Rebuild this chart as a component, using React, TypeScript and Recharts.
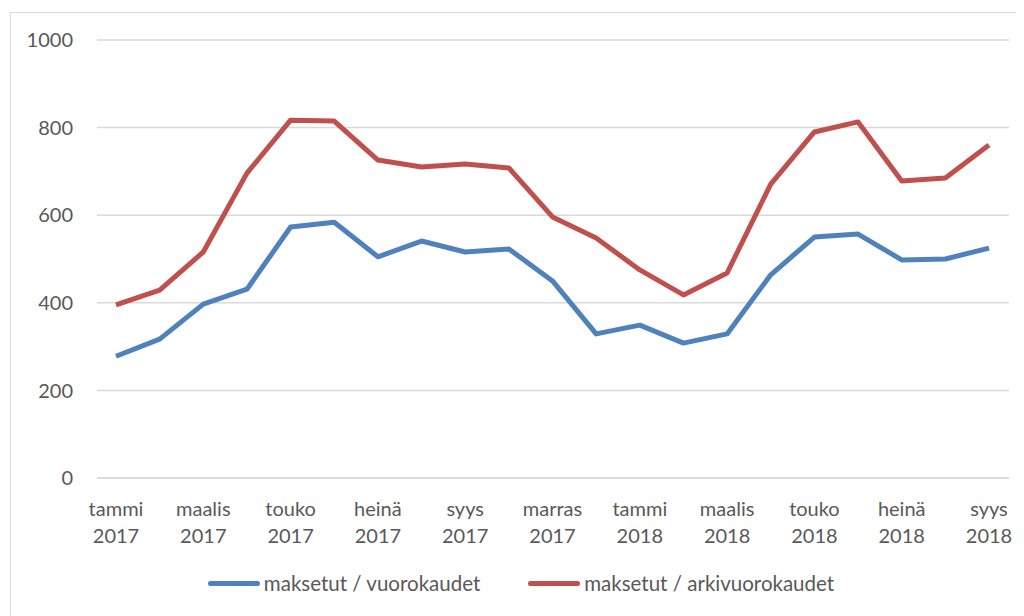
import React from "react";
import { LineChart, Line, XAxis, YAxis, CartesianGrid, Legend } from "recharts";

const months = [
  "tammi 2017", "helmi 2017", "maalis 2017", "huhti 2017", "touko 2017", "kesä 2017",
  "heinä 2017", "elo 2017", "syys 2017", "loka 2017", "marras 2017", "joulu 2017",
  "tammi 2018", "helmi 2018", "maalis 2018", "huhti 2018", "touko 2018", "kesä 2018",
  "heinä 2018", "elo 2018", "syys 2018",
];
const vuorokaudet = [278, 317, 397, 431, 573, 584, 505, 541, 516, 523, 450, 329, 349, 308, 329, 464, 550, 557, 498, 500, 525];
const arkivuorokaudet = [395, 429, 516, 696, 817, 815, 726, 710, 717, 708, 596, 548, 475, 418, 468, 671, 790, 813, 678, 685, 760];
const yTicks = [0, 200, 400, 600, 800, 1000];

const data = months.map((m, i) => ({ month: m, a: vuorokaudet[i], b: arkivuorokaudet[i] }));

const FONT = "Lato, 'Liberation Sans', Arial, sans-serif";
const TXT = "#595959";

const XTick = (props: any) => {
  const { x, y, payload } = props;
  const [m, yr] = String(payload.value).split(" ");
  return (
    <text x={x} y={y} textAnchor="middle" fill={TXT} fontSize={20} fontFamily={FONT}>
      <tspan x={x} dy={30}>{m}</tspan>
      <tspan x={x} dy={27}>{yr}</tspan>
    </text>
  );
};

const LegendContent = () => (
  <div style={{ display: "flex", justifyContent: "center", fontFamily: FONT, fontSize: 20.5, color: TXT, paddingRight: 4 }}>
    <div style={{ display: "flex", alignItems: "center", marginRight: 48 }}>
      <div style={{ width: 52, height: 5, background: "#4F81BD", borderRadius: 3, marginRight: 4 }} />
      <span>maksetut / vuorokaudet</span>
    </div>
    <div style={{ display: "flex", alignItems: "center" }}>
      <div style={{ width: 52, height: 5, background: "#C0504D", borderRadius: 3, marginRight: 4 }} />
      <span>maksetut / arkivuorokaudet</span>
    </div>
  </div>
);

export default function App() {
  return (
    <div style={{ marginLeft: 2, marginTop: 4, width: 1030, height: 620, border: "1px solid #d9d9d9", boxSizing: "border-box", overflow: "hidden" }}>
      <LineChart width={1018} height={600} data={data} margin={{ top: 27, right: 20, left: 26, bottom: 16 }}>
        <CartesianGrid horizontal vertical={false} stroke="#d9d9d9" strokeWidth={1.5} />
        <XAxis
          dataKey="month"
          interval={1}
          tick={<XTick />}
          tickLine={false}
          axisLine={{ stroke: "#d9d9d9", strokeWidth: 1.5 }}
          height={93}
          padding={{ left: 19, right: 20 }}
        />
        <YAxis
          domain={[0, 1000]}
          ticks={yTicks}
          width={60}
          tickLine={false}
          axisLine={false}
          tickMargin={18}
          tick={{ fill: TXT, fontSize: 20, fontFamily: FONT }}
        />
        <Legend verticalAlign="bottom" height={26} content={<LegendContent />} />
        <Line dataKey="a" name="maksetut / vuorokaudet" stroke="#4F81BD" strokeWidth={5} dot={false} isAnimationActive={false} strokeLinejoin="round" />
        <Line dataKey="b" name="maksetut / arkivuorokaudet" stroke="#C0504D" strokeWidth={5} dot={false} isAnimationActive={false} strokeLinejoin="round" />
      </LineChart>
    </div>
  );
}
